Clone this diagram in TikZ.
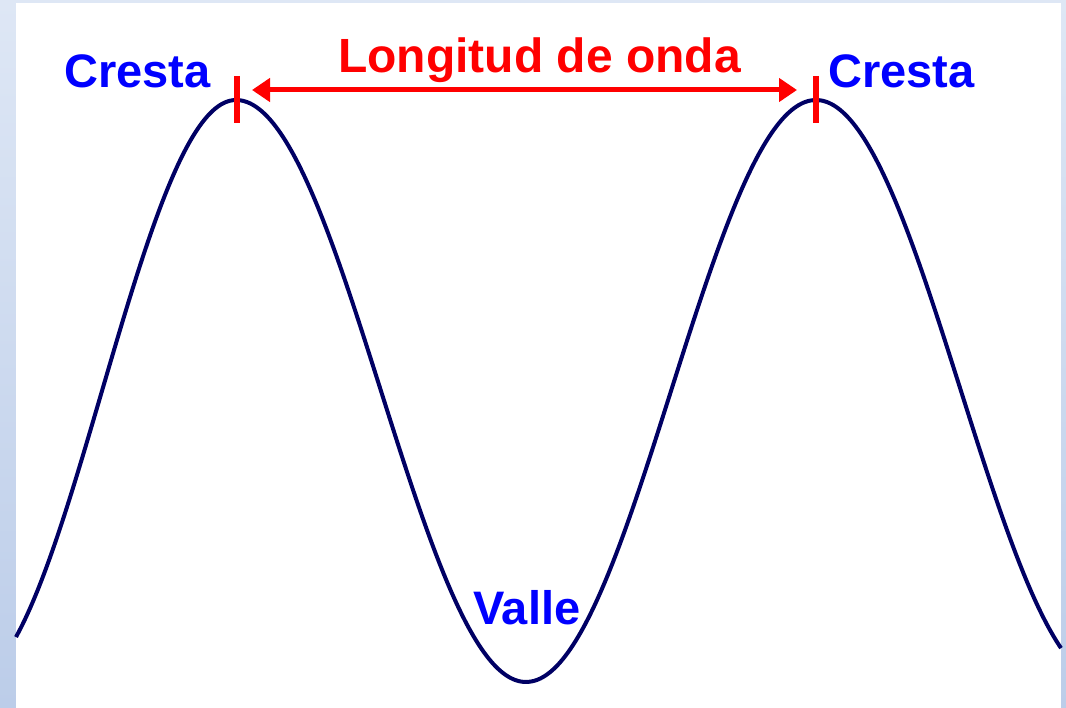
\documentclass[tikz,border=0pt]{standalone}
\usepackage{fontspec}
\setmainfont{Liberation Sans}
\usepackage{xcolor}
\usetikzlibrary{arrows.meta,positioning,calc}

\definecolor{wavenavy}{RGB}{0,0,100}
\definecolor{bgtop}{RGB}{222,231,245}
\definecolor{bgbot}{RGB}{188,205,233}

\tikzset{
  bluelabel/.style={text=blue, inner sep=0pt, font=\fontsize{47}{56}\selectfont\bfseries},
  redlabel/.style={text=red, inner sep=0pt, font=\fontsize{48}{58}\selectfont\bfseries},
  crestmark/.style={draw=red, line width=6pt},
}

\begin{document}
\begin{tikzpicture}[x=1pt,y=-1pt]
		\useasboundingbox (0,0) rectangle (1066,708);
		\shade[top color=bgtop, bottom color=bgbot] (0,0) rectangle (1066,708);
		\fill[white] (16,3) rectangle (1061,708);

		% the wave: crests at 236 and 816, trough at 526
		\draw[wavenavy, line width=4pt, line join=round]
			plot[domain=16:1061, samples=240, variable=\x, smooth]
			({\x}, {391 - 291*cos(0.62069*(\x - 236 - 0.08182*max(0,236-\x)))});

		% crest marks
		\coordinate (crestL) at (237,90);
		\coordinate (crestR) at (816,90);
		\draw[crestmark] ($(crestL)+(0,-14)$) -- ($(crestL)+(0,33)$);
		\draw[crestmark] ($(crestR)+(0,-14)$) -- ($(crestR)+(0,33)$);
		\draw[red, line width=5pt, {Triangle[length=18pt,width=23pt]}-{Triangle[length=18pt,width=23pt]},
			shorten <=15pt, shorten >=19pt] (crestL) -- (crestR);

		\node[bluelabel, anchor=base west] (cresta1) at (64,88) {Cresta};
		\node[bluelabel, anchor=base west] (cresta2) at (828,88) {Cresta};
		\node[redlabel, anchor=base west] (longitud) at (338,73) {Longitud de onda};
		\node[bluelabel, anchor=base west] (valle) at (473,624) {Valle};
	\end{tikzpicture}
\end{document}
